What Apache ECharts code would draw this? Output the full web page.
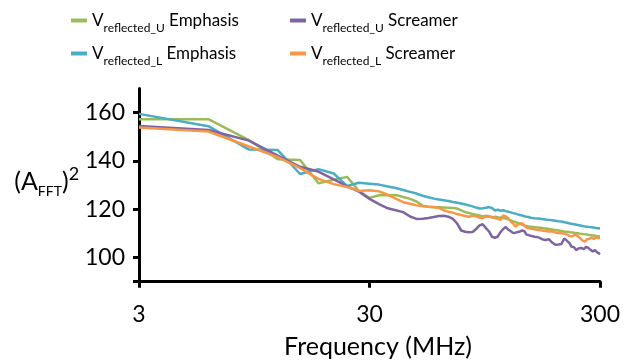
<!DOCTYPE html>
<html><head><meta charset="utf-8">
<script src="https://cdn.jsdelivr.net/npm/echarts@6/dist/echarts.min.js"></script>
<style>html,body{margin:0;padding:0;background:#fff}#c{width:636px;height:362px}</style>
</head><body><div id="c"></div>
<script>
// Frequency (MHz)
const freqMHz = [3,6,9,12,15,18,21,24,27,30,33,36,39,42,45,48,51,54,57,60,
63,66,69,72,75,78,81,84,87,90,93,96,99,102,105,108,111,114,117,120,
123,126,129,132,135,138,141,144,147,150,153,156,159,162,165,168,171,174,177,180,
183,186,189,192,195,198,201,204,207,210,213,216,219,222,225,228,231,234,237,240,
243,246,249,252,255,258,261,264,267,270,273,276,279,282,285,288,291,294,297,300];

// V_reflected_U Emphasis (green)
const uEmphasis = [157.3,157.3,148.6,140.7,140.4,130.8,132.2,133.4,127.5,124.7,
125.8,125.8,125.9,125.1,124.3,123.2,121.5,121.0,120.8,120.8,
120.7,120.6,120.5,120.3,119.5,118.8,118.5,118.0,117.7,117.4,
117.0,117.3,117.1,116.6,116.9,116.7,116.6,116.4,116.2,115.8,
115.4,115.0,114.7,114.3,114.0,113.6,113.3,113.1,112.9,112.8,
112.7,112.6,112.5,112.4,112.3,112.2,112.1,112.0,111.9,111.8,
111.7,111.6,111.5,111.4,111.3,111.2,111.1,111.0,110.9,110.8,
110.8,110.7,110.6,110.5,110.4,110.4,110.3,110.2,110.2,110.1,
110.0,109.9,109.8,109.8,109.7,109.6,109.5,109.5,109.4,109.3,
109.3,109.2,109.1,109.1,109.0,108.9,108.9,108.8,108.7,108.7];

// V_reflected_L Emphasis (blue)
const lEmphasis = [159.5,154.4,144.7,144.5,134.6,136.6,134.8,129.6,131.0,130.6,
130.2,129.4,128.8,128.0,127.2,126.5,125.6,125.0,124.4,124.0,
123.7,123.4,123.0,122.7,122.4,122.0,121.6,121.2,120.7,120.3,
120.4,120.6,120.9,120.5,119.5,119.8,119.4,119.6,119.2,119.0,
118.7,118.4,118.2,117.9,117.6,117.4,117.1,116.9,116.8,116.5,
116.4,116.3,116.2,116.2,116.1,116.0,115.9,115.8,115.7,115.6,
115.5,115.4,115.3,115.2,115.1,115.0,114.9,114.9,114.8,114.6,
114.5,114.4,114.3,114.1,114.0,113.9,113.8,113.7,113.6,113.5,
113.4,113.3,113.2,113.1,113.0,112.9,112.8,112.8,112.7,112.6,
112.5,112.5,112.4,112.4,112.3,112.2,112.2,112.1,112.0,112.0];

// V_reflected_U Screamer (purple)
const uScreamer = [154.5,152.8,148.4,142.2,137.6,135.6,132.4,129.5,127.3,124.3,
122.1,120.4,119.6,118.8,117.0,116.0,116.1,116.4,116.8,117.2,
117.3,116.9,116.0,114.1,111.2,110.7,110.5,110.6,111.8,113.3,
113.8,112.2,110.8,108.6,108.2,108.7,110.5,111.8,112.6,111.6,
110.9,110.2,110.3,110.6,110.8,111.2,110.9,109.5,109.3,109.0,
108.8,108.6,109.0,108.4,108.0,107.6,107.4,107.3,108.0,107.6,
106.8,106.2,105.9,105.3,105.2,105.4,105.2,105.6,106.8,107.9,
107.6,106.9,106.2,105.8,104.6,104.8,104.3,103.6,103.1,103.4,
103.9,104.2,104.0,103.7,103.5,103.9,104.4,104.5,104.0,103.6,
103.2,102.8,102.5,102.7,103.1,102.6,102.2,102.0,101.7,101.4];

// V_reflected_L Screamer (orange)
const lScreamer = [153.8,152.2,146.0,141.6,137.0,132.6,130.4,129.2,127.6,127.9,
127.4,126.0,124.4,122.9,122.3,121.6,121.2,121.0,120.9,120.6,
119.6,119.0,118.6,118.0,117.6,117.2,116.9,117.3,117.1,116.6,
116.3,117.0,116.9,116.8,116.4,116.0,115.6,117.4,117.0,116.3,
115.0,114.0,112.9,113.6,114.0,114.2,113.2,112.4,112.1,112.0,
111.8,111.7,111.6,111.4,111.5,111.2,111.1,111.0,110.9,110.8,
110.7,110.9,110.5,110.4,110.3,110.2,110.2,110.1,110.0,109.9,
109.7,109.5,109.2,108.9,108.7,108.8,109.3,109.6,109.4,109.0,
108.5,108.0,107.5,107.0,106.8,106.6,107.0,107.6,108.0,107.8,
108.1,108.3,108.0,107.7,108.1,108.4,108.2,108.0,108.3,108.2];

const xTicks = [3, 30, 300];
const yTickLabels = [100, 120, 140, 160];
const yTickMarks = [90, 100, 120, 140, 160];

const seriesNames = ['uE', 'lE', 'uS', 'lS'];
const legendLabels = {
  uE: ['reflected_U', ' Emphasis'],
  lE: ['reflected_L', ' Emphasis'],
  uS: ['reflected_U', ' Screamer'],
  lS: ['reflected_L', ' Screamer']
};
const colors = ['#9BBB59', '#4BACC6', '#8064A2', '#F79646'];
const dataSets = [uEmphasis, lEmphasis, uScreamer, lScreamer];

const FONT = 'Lato';
const legendRich = {
  v: {fontSize: 17, lineHeight: 27, fontFamily: FONT, color: '#000'},
  s: {fontSize: 12, verticalAlign: 'bottom', fontFamily: FONT, color: '#000'}
};
const legendCommon = {
  orient: 'vertical', icon: 'rect', itemWidth: 16, itemHeight: 4, itemGap: 11,
  textStyle: {rich: legendRich},
  formatter: n => '{v|V}{s|' + legendLabels[n][0] + '}{v|' + legendLabels[n][1] + '}'
};

const chart = echarts.init(document.getElementById('c'));
chart.setOption({
  animation: false,
  color: colors,
  legend: [
    Object.assign({left: 66, top: 7, data: ['uE', 'lE']}, legendCommon),
    Object.assign({left: 285, top: 7, data: ['uS', 'lS']}, legendCommon)
  ],
  grid: {left: 139, right: 36, top: 88.5, bottom: 80.3, containLabel: false, outerBoundsMode: 'none'},
  xAxis: {
    type: 'log', logBase: 10, min: 3, max: 300,
    name: 'Frequency (MHz)', nameLocation: 'middle', nameGap: 53,
    nameTextStyle: {fontFamily: FONT, fontSize: 25, color: '#000', padding: [0, 0, 0, 17]},
    axisLine: {show: true, lineStyle: {color: '#000', width: 3}},
    axisTick: {show: true, length: 6, lineStyle: {color: '#000', width: 3}, customValues: xTicks},
    axisLabel: {fontFamily: FONT, fontSize: 23, color: '#000', margin: 21, customValues: xTicks},
    splitLine: {show: false},
    minorTick: {show: false}
  },
  yAxis: {
    type: 'value', min: 90, max: 170,
    name: '{a|(A}{sub|FFT}{a|)}{sup|2}', nameLocation: 'middle', nameRotate: 0, nameGap: 51,
    nameTextStyle: {
      rich: {
        a: {fontFamily: FONT, fontSize: 25, lineHeight: 33, color: '#000'},
        sub: {fontFamily: FONT, fontSize: 14, verticalAlign: 'bottom', color: '#000'},
        sup: {fontFamily: FONT, fontSize: 18, verticalAlign: 'top', color: '#000'}
      },
      padding: [0, 0, 6, 0]
    },
    axisLine: {show: true, lineStyle: {color: '#000', width: 3}},
    axisTick: {show: true, length: 6, lineStyle: {color: '#000', width: 3}, customValues: yTickMarks},
    axisLabel: {fontFamily: FONT, fontSize: 23, color: '#000', margin: 14, customValues: yTickLabels},
    splitLine: {show: false}
  },
  series: seriesNames.map((n, i) => ({
    name: n, type: 'line', showSymbol: false, symbol: 'none',
    data: freqMHz.map((f, k) => [f, dataSets[i][k]]),
    lineStyle: {width: 2.5, color: colors[i]},
    itemStyle: {color: colors[i]}
  }))
});
</script>
</body></html>
